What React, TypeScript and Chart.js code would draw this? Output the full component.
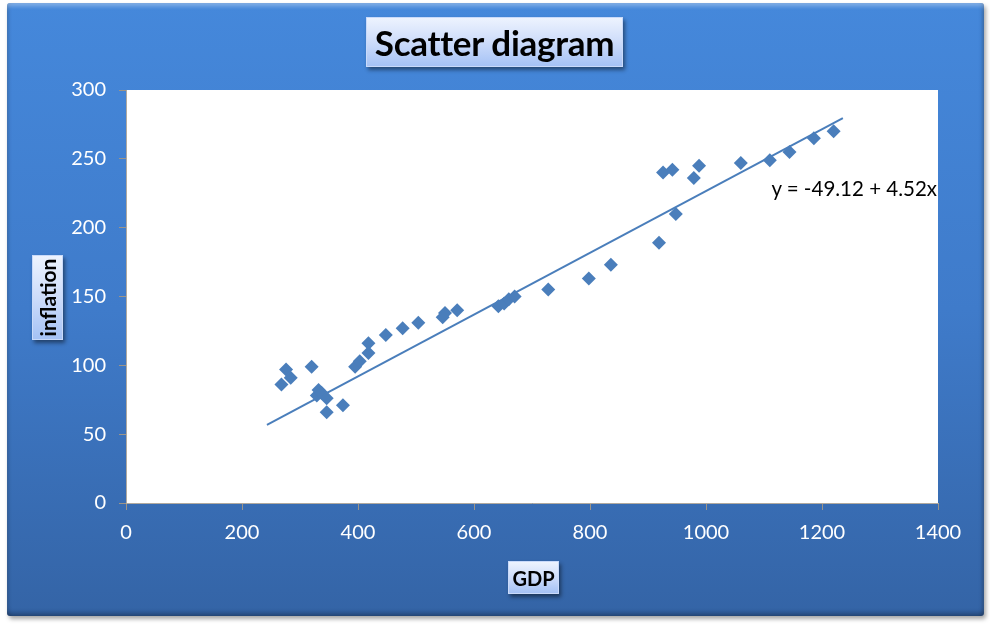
import React, { useEffect, useRef } from "react";
import { Chart, registerables } from "chart.js";
Chart.register(...registerables);

const gdp = [268, 276, 284, 320, 329, 332, 337, 346, 346, 374, 395, 403, 418, 418, 448, 477, 504, 546, 550, 571, 642, 652, 660, 670, 728, 798, 836, 919, 926, 942, 948, 979, 988, 1060, 1110, 1144, 1186, 1220];
const inflation = [86, 97, 91, 99, 78, 82, 80, 76, 66, 71, 99, 103, 109, 116, 122, 127, 131, 135, 138, 140, 143, 145, 148, 150, 155, 163, 173, 189, 240, 242, 210, 236, 245, 247, 249, 255, 265, 270];
const trendGdp = [243, 1236];
const trendInflation = [56.7, 279.6];
const xTickMin = 0, xTickMax = 1400, xTickStep = 200;
const yTickMin = 0, yTickMax = 300, yTickStep = 50;
const titleText = "Scatter diagram";
const xTitle = "GDP";
const yTitle = "inflation";
const equationText = "y = -49.12 + 4.52x";

const FONT = "Lato, 'Open Sans', sans-serif";

const boxStyle: React.CSSProperties = {
  position: "absolute",
  background: "linear-gradient(to bottom, #edf3fe 0%, #cddcfa 50%, #a5c2f5 100%)",
  border: "1px solid #c9dafa",
  boxShadow: "2px 3px 4px rgba(0,0,0,0.45)",
  color: "#000",
  fontFamily: FONT,
  fontWeight: 700,
  display: "flex",
  alignItems: "center",
  justifyContent: "center",
  boxSizing: "border-box",
};

export default function App() {
  const ref = useRef<HTMLCanvasElement>(null);
  useEffect(() => {
    const plotBg = {
      id: "plotBg",
      beforeDraw(chart: any) {
        const { ctx, chartArea } = chart;
        ctx.save();
        ctx.fillStyle = "#ffffff";
        ctx.fillRect(chartArea.left, chartArea.top, chartArea.right - chartArea.left, chartArea.bottom - chartArea.top);
        ctx.restore();
      },
    };
    const chart = new Chart(ref.current!, {
      type: "scatter",
      data: {
        datasets: [
          {
            label: "data",
            data: gdp.map((x, i) => ({ x, y: inflation[i] })),
            pointStyle: "rectRot",
            pointRadius: 7,
            pointBackgroundColor: "#4a7ebb",
            pointBorderWidth: 0,
            borderColor: "#4a7ebb",
            backgroundColor: "#4a7ebb",
          },
          {
            label: "trend",
            data: trendGdp.map((x, i) => ({ x, y: trendInflation[i] })),
            showLine: true,
            pointRadius: 0,
            borderColor: "#4a7ebb",
            borderWidth: 2,
          },
        ],
      },
      options: {
        animation: false,
        responsive: false,
        events: [],
        layout: { padding: { top: 90, right: 52, bottom: 0, left: 0 } },
        plugins: { legend: { display: false }, title: { display: false }, tooltip: { enabled: false } },
        scales: {
          x: {
            type: "linear",
            min: xTickMin,
            max: xTickMax,
            ticks: { stepSize: xTickStep, color: "#ffffff", font: { family: FONT, size: 20 }, padding: 11, callback: (v: any) => String(v) },
            grid: { drawOnChartArea: false, drawTicks: true, tickLength: 7, color: "#9c9488" },
            border: { display: true, color: "#b0a99f" },
            afterFit: (s: any) => { s.height = 121; },
          },
          y: {
            type: "linear",
            min: yTickMin,
            max: yTickMax,
            ticks: { stepSize: yTickStep, color: "#ffffff", font: { family: FONT, size: 20 }, padding: 13, callback: (v: any) => String(v) },
            grid: { drawOnChartArea: false, drawTicks: true, tickLength: 7, color: "#9c9488" },
            border: { display: true, color: "#b0a99f" },
            afterFit: (s: any) => { s.width = 126; },
          },
        },
      },
      plugins: [plotBg],
    });
    return () => chart.destroy();
  }, []);

  return (
    <div style={{ position: "fixed", left: 0, top: 0, width: 990, height: 624, background: "#ffffff", overflow: "hidden" }}>
      <div
        style={{
          position: "absolute",
          left: 7,
          top: 3,
          width: 977,
          height: 613,
          borderRadius: 3,
          background: "linear-gradient(to bottom, #4588db 0%, #3f7bca 50%, #3464a6 100%)",
          boxShadow: "inset 0 5px 4px -2px rgba(255,255,255,0.35), inset 0 -5px 5px -2px rgba(0,0,0,0.3), inset 4px 0 4px -3px rgba(0,0,0,0.2), inset -4px 0 4px -3px rgba(0,0,0,0.3), 2px 3px 4px rgba(0,0,0,0.35)",
        }}
      />
      <canvas ref={ref} width={990} height={624} style={{ position: "absolute", left: 0, top: 0, width: 990, height: 624 }} />
      <div style={{ ...boxStyle, left: 366, top: 17, width: 257, height: 50, fontSize: 35, letterSpacing: -0.3 }}>{titleText}</div>
      <div style={{ ...boxStyle, left: 32, top: 255, width: 31, height: 85, fontSize: 21 }}>
        <span style={{ transform: "rotate(-90deg)", display: "inline-block", whiteSpace: "nowrap" }}>{yTitle}</span>
      </div>
      <div style={{ ...boxStyle, left: 508, top: 561, width: 51, height: 33, fontSize: 20 }}>{xTitle}</div>
      <div
        style={{
          position: "absolute",
          right: 990 - 937,
          top: 175,
          fontFamily: FONT,
          fontSize: 20.5,
          color: "#000",
          whiteSpace: "nowrap",
          lineHeight: "26px",
        }}
      >
        {equationText}
      </div>
    </div>
  );
}
